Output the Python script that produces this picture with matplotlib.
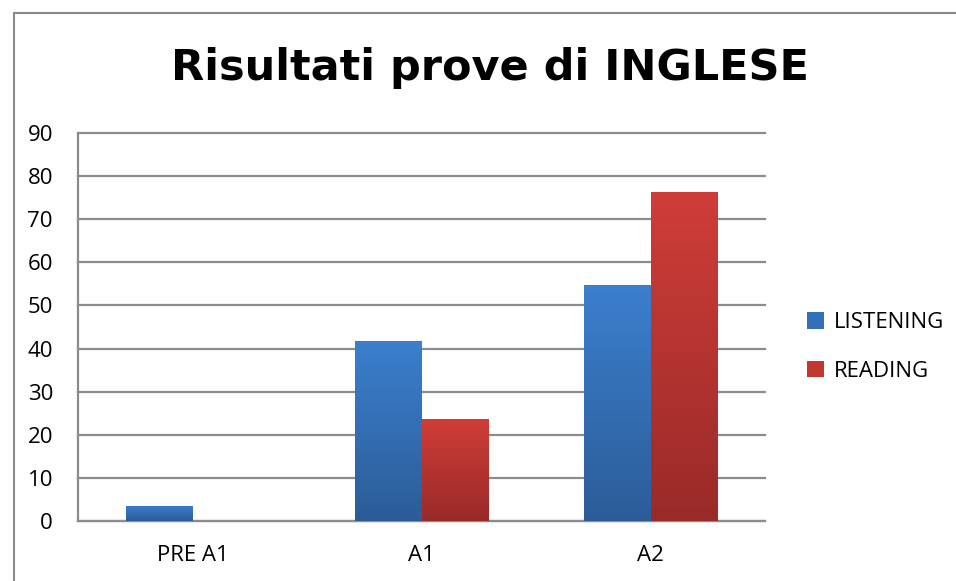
import numpy as np
import matplotlib
matplotlib.use("Agg")
import matplotlib.pyplot as plt
from matplotlib.lines import Line2D
from matplotlib.colors import LinearSegmentedColormap
from matplotlib.patches import Patch

categories = ["PRE A1", "A1", "A2"]
listening = [3.5, 41.8, 54.7]
reading = [0, 23.7, 76.3]
series_names = ["LISTENING", "READING"]

W, H = 956, 581
fig = plt.figure(figsize=(W/100, H/100), dpi=100)
ax = fig.add_axes([78/W, 1-521/H, (765-78)/W, (521-133)/H])

x = np.arange(len(categories))
bw = 0.29
grads = [("#3B7FCE", "#2C5C98"), ("#D03D38", "#992A29")]
mids = ["#3470BA", "#C0372F"]
for i, (vals, (ctop, cbot)) in enumerate(zip([listening, reading], grads)):
    offs = (i - 0.5) * bw
    bars = ax.bar(x + offs, vals, bw, color="none", edgecolor="none", zorder=3)
    cmap = LinearSegmentedColormap.from_list("g", [cbot, ctop])
    grad = np.linspace(0, 1, 256).reshape(-1, 1)
    for b in bars:
        h = b.get_height()
        if h <= 0:
            continue
        x0 = b.get_x()
        im = ax.imshow(grad, cmap=cmap, origin="lower", aspect="auto",
                       extent=[x0, x0 + b.get_width(), 0, h], zorder=3)
        im.set_clip_path(b)

ax.set_xlim(-0.5, 2.5)
ax.set_ylim(0, 90)
ax.set_yticks(np.arange(0, 91, 10))
ax.set_xticks(x)
ax.set_xticklabels(categories)
ax.yaxis.grid(True, color="#8C8C8C", linewidth=1.6, zorder=0)
for gl in ax.get_ygridlines():
    gl.set_clip_on(False)
ax.set_axisbelow(True)
for s in ["right", "top"]:
    ax.spines[s].set_visible(False)
for s in ["bottom", "left"]:
    ax.spines[s].set_color("#8C8C8C")
    ax.spines[s].set_linewidth(1.6)
ax.tick_params(axis="y", length=0, pad=18, labelsize=16, labelcolor="#000000")
ax.tick_params(axis="x", length=0, pad=17, labelsize=16, labelcolor="#000000")
for lab in ax.get_xticklabels() + ax.get_yticklabels():
    lab.set_family("Open Sans")

handles = [Patch(facecolor=mids[0]), Patch(facecolor=mids[1])]
leg = fig.legend(handles, series_names, loc="center left",
                 bbox_to_anchor=(807/W, 1-347/H), frameon=False,
                 prop={"family": "Open Sans", "size": 16},
                 handlelength=0.75, handleheight=0.75, handletextpad=0.45,
                 labelspacing=1.25, borderpad=0, borderaxespad=0)

fig.text(490/W, 1-68/H, "Risultati prove di INGLESE", ha="center", va="center",
         fontsize=31, fontweight="bold", family="DejaVu Sans")

fig.add_artist(Line2D([14/W, 14/W], [0, 1-13/H], color="#8A8A8A", lw=1.5))
fig.add_artist(Line2D([14/W, 1], [1-13/H, 1-13/H], color="#8A8A8A", lw=1.5))

fig.savefig("out.png", dpi=100)
